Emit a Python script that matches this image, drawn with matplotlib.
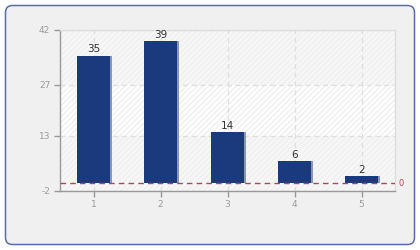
import matplotlib
matplotlib.use("Agg")
import matplotlib.pyplot as plt
from matplotlib.patches import FancyBboxPatch
from matplotlib.transforms import IdentityTransform

plt.rcParams['axes.unicode_minus'] = False

# chart data
categories = [1, 2, 3, 4, 5]
values = [35, 39, 14, 6, 2]
y_ticks = [-2, 13, 27, 42]
ref_value = 0

bar_color = '#1b3a7e'
shadow_color = '#8a96b4'
tick_color = '#9a9a9a'

fig = plt.figure(figsize=(4.2, 2.5), dpi=100)
fig.patch.set_facecolor('white')

# rounded outer panel
panel = FancyBboxPatch((5.5, 5.5), 409, 239, boxstyle="round,pad=0,rounding_size=7",
                       transform=IdentityTransform(), facecolor='#f0f0f0',
                       edgecolor='#5a6ea6', linewidth=1.1, zorder=-5)
fig.patches.append(panel)

ax = fig.add_axes([60 / 420, 1 - 190.7 / 250, 335 / 420, 160.7 / 250])
ax.set_zorder(1)
ax.set_facecolor('white')
ax.set_xlim(0.5, 5.5)
ax.set_ylim(y_ticks[0], y_ticks[-1])

# alternating bands with faint hatching
band_fill = ['#f7f7f7', '#ffffff', '#f7f7f7']
for i in range(len(y_ticks) - 1):
    ax.axhspan(y_ticks[i], y_ticks[i + 1], facecolor=band_fill[i], edgecolor='#efefef',
               hatch='//////', linewidth=0, zorder=0)

ax.grid(True, linestyle=(0, (4, 3)), color='#dedede', linewidth=0.9, zorder=1)
ax.set_axisbelow(True)

# bars with small shadow on the right
ax.bar([c + 0.02 for c in categories], values, width=0.5, color=shadow_color, zorder=2)
bars = ax.bar(categories, values, width=0.5, color=bar_color, zorder=3)
for rect, v in zip(bars, values):
    ax.text(rect.get_x() + rect.get_width() / 2, v + 0.3, str(v), ha='center', va='bottom',
            fontsize=7.5, color='#333333', zorder=5)

# reference line at 0
ax.axhline(ref_value, color='#a8485c', linestyle=(0, (4, 3)), linewidth=1.0, zorder=4)
ax.text(1.01, ref_value, str(ref_value), transform=ax.get_yaxis_transform(),
        ha='left', va='center', fontsize=6, color='#b0485c')

ax.set_xticks(categories)
ax.set_yticks(y_ticks)
ax.tick_params(axis='both', colors='#999999', labelcolor=tick_color, labelsize=6.5,
               length=4, width=1, direction='out', pad=3)

for side in ['left', 'bottom']:
    ax.spines[side].set_color('#999999')
    ax.spines[side].set_linewidth(1)
for side in ['top', 'right']:
    ax.spines[side].set_color('#dddddd')
    ax.spines[side].set_linewidth(1)

fig.savefig('out.png', dpi=100)
